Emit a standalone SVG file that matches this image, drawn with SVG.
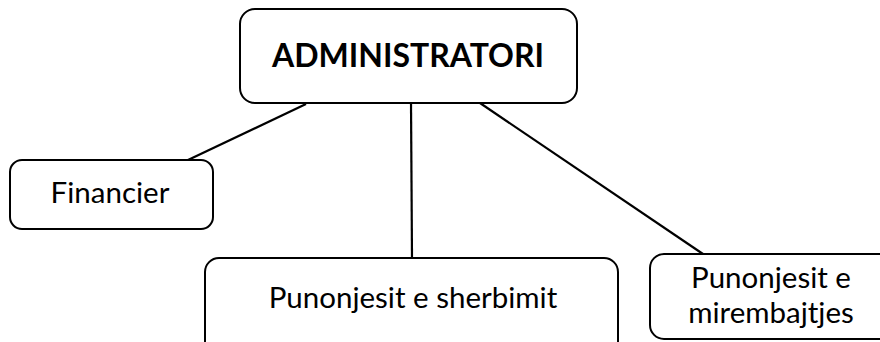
<svg xmlns="http://www.w3.org/2000/svg" width="880" height="342" viewBox="0 0 880 342">
<style>
.box{fill:#fff;stroke:#000;stroke-width:2}
.t{font-family:Lato,"Liberation Sans",sans-serif;font-size:29.5px;fill:#000;text-anchor:middle}
.b{font-weight:bold;font-size:32px}
.c{stroke:#000;stroke-width:2.2;fill:none}
</style>
<rect width="880" height="342" fill="#fff"/>
<g id="connectors">
<line class="c" x1="306" y1="104" x2="188" y2="160"/>
<line class="c" x1="411" y1="103" x2="412" y2="258"/>
<line class="c" x1="480" y1="103" x2="703" y2="254"/>
</g>
<g id="admin">
<rect class="box" x="240" y="9" width="337" height="94" rx="15"/>
<text class="t b" x="408" y="67">ADMINISTRATORI</text>
</g>
<g id="financier">
<rect class="box" x="10" y="160" width="203" height="69" rx="12"/>
<text class="t" x="110" y="203">Financier</text>
</g>
<g id="sherbimit">
<rect class="box" x="205" y="258" width="413" height="100" rx="14"/>
<text class="t" x="413" y="308">Punonjesit e sherbimit</text>
</g>
<g id="mirembajtjes">
<rect class="box" x="650" y="254" width="260" height="85" rx="14"/>
<text class="t" x="771" y="288">Punonjesit e</text>
<text class="t" x="771" y="323">mirembajtjes</text>
</g>
</svg>
